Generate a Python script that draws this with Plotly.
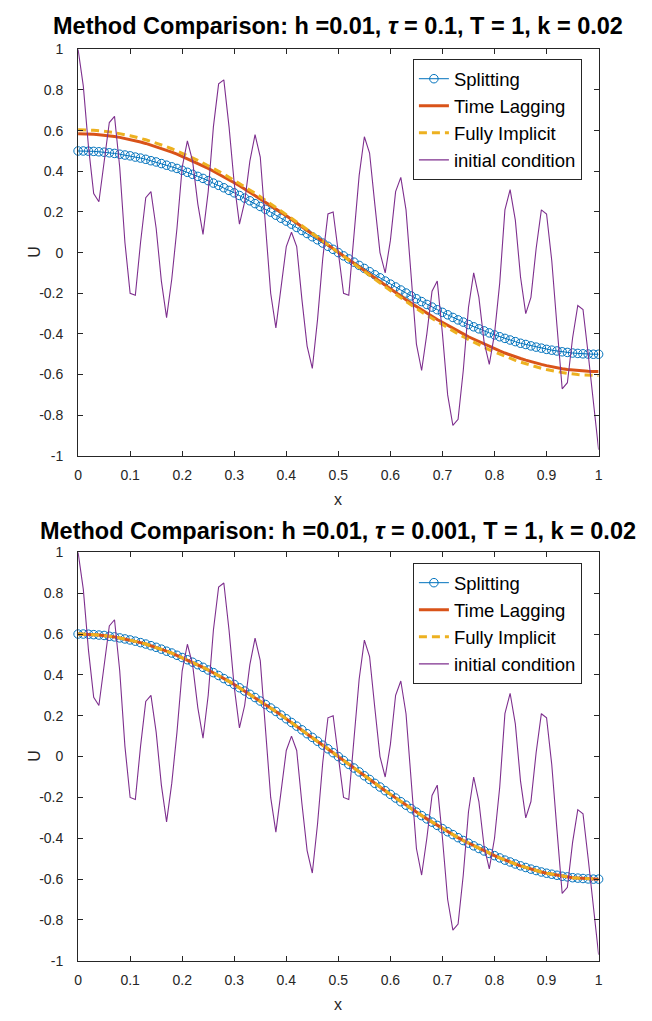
import plotly.graph_objects as go

# ---------------- data ----------------
x_grid = [0.00, 0.01, 0.02, 0.03, 0.04, 0.05, 0.06, 0.07, 0.08, 0.09,
          0.10, 0.11, 0.12, 0.13, 0.14, 0.15, 0.16, 0.17, 0.18, 0.19,
          0.20, 0.21, 0.22, 0.23, 0.24, 0.25, 0.26, 0.27, 0.28, 0.29,
          0.30, 0.31, 0.32, 0.33, 0.34, 0.35, 0.36, 0.37, 0.38, 0.39,
          0.40, 0.41, 0.42, 0.43, 0.44, 0.45, 0.46, 0.47, 0.48, 0.49,
          0.50, 0.51, 0.52, 0.53, 0.54, 0.55, 0.56, 0.57, 0.58, 0.59,
          0.60, 0.61, 0.62, 0.63, 0.64, 0.65, 0.66, 0.67, 0.68, 0.69,
          0.70, 0.71, 0.72, 0.73, 0.74, 0.75, 0.76, 0.77, 0.78, 0.79,
          0.80, 0.81, 0.82, 0.83, 0.84, 0.85, 0.86, 0.87, 0.88, 0.89,
          0.90, 0.91, 0.92, 0.93, 0.94, 0.95, 0.96, 0.97, 0.98, 0.99,
          1.00]

initial_condition = [
    1.00, 0.82, 0.52, 0.29, 0.25, 0.45, 0.64, 0.67, 0.42, 0.05,
    -0.20, -0.21, 0.05, 0.27, 0.30, 0.12, -0.14, -0.32, -0.13, 0.12,
    0.42, 0.55, 0.45, 0.24, 0.09, 0.30, 0.62, 0.83, 0.85, 0.62,
    0.34, 0.14, 0.25, 0.45, 0.58, 0.47, 0.15, -0.20, -0.37, -0.17,
    0.03, 0.10, 0.03, -0.23, -0.46, -0.57, -0.33, -0.03, 0.19, 0.20,
    -0.01, -0.20, -0.21, 0.07, 0.38, 0.57, 0.49, 0.24, 0.00, -0.10,
    0.06, 0.30, 0.37, 0.21, -0.12, -0.45, -0.58, -0.40, -0.19, -0.14,
    -0.40, -0.70, -0.85, -0.82, -0.58, -0.27, -0.10, -0.22, -0.44, -0.55,
    -0.40, -0.15, 0.21, 0.31, 0.16, -0.12, -0.30, -0.22, 0.02, 0.21,
    0.19, -0.04, -0.36, -0.67, -0.64, -0.42, -0.26, -0.28, -0.50, -0.74,
    -0.97]

# top panel (tau = 0.1)
top_splitting = [
    0.500, 0.500, 0.499, 0.498, 0.496, 0.494, 0.491, 0.488, 0.484, 0.480,
    0.476, 0.470, 0.465, 0.459, 0.452, 0.446, 0.438, 0.430, 0.422, 0.414,
    0.405, 0.395, 0.385, 0.375, 0.365, 0.354, 0.342, 0.331, 0.319, 0.306,
    0.294, 0.281, 0.268, 0.255, 0.241, 0.227, 0.213, 0.199, 0.184, 0.169,
    0.155, 0.140, 0.124, 0.109, 0.094, 0.078, 0.063, 0.047, 0.031, 0.016,
    0.000, -0.016, -0.031, -0.047, -0.063, -0.078, -0.094, -0.109, -0.124, -0.140,
    -0.155, -0.169, -0.184, -0.199, -0.213, -0.227, -0.241, -0.255, -0.268, -0.281,
    -0.294, -0.306, -0.319, -0.331, -0.342, -0.354, -0.365, -0.375, -0.385, -0.395,
    -0.405, -0.414, -0.422, -0.430, -0.438, -0.446, -0.452, -0.459, -0.465, -0.470,
    -0.476, -0.480, -0.484, -0.488, -0.491, -0.494, -0.496, -0.498, -0.499, -0.500,
    -0.500]

top_time_lagging = [
    0.585, 0.585, 0.584, 0.582, 0.580, 0.578, 0.575, 0.571, 0.567, 0.562,
    0.556, 0.550, 0.544, 0.537, 0.529, 0.521, 0.513, 0.504, 0.494, 0.484,
    0.473, 0.462, 0.451, 0.439, 0.426, 0.414, 0.400, 0.387, 0.373, 0.359,
    0.344, 0.329, 0.313, 0.298, 0.282, 0.266, 0.249, 0.232, 0.215, 0.198,
    0.181, 0.163, 0.145, 0.128, 0.110, 0.091, 0.073, 0.055, 0.037, 0.018,
    0.000, -0.018, -0.037, -0.055, -0.073, -0.091, -0.110, -0.128, -0.145, -0.163,
    -0.181, -0.198, -0.215, -0.232, -0.249, -0.266, -0.282, -0.298, -0.313, -0.329,
    -0.344, -0.359, -0.373, -0.387, -0.400, -0.414, -0.426, -0.439, -0.451, -0.462,
    -0.473, -0.484, -0.494, -0.504, -0.513, -0.521, -0.529, -0.537, -0.544, -0.550,
    -0.556, -0.562, -0.567, -0.571, -0.575, -0.578, -0.580, -0.582, -0.584, -0.585,
    -0.585]

top_fully_implicit = [
    0.605, 0.605, 0.604, 0.602, 0.600, 0.598, 0.594, 0.590, 0.586, 0.581,
    0.575, 0.569, 0.563, 0.555, 0.547, 0.539, 0.530, 0.521, 0.511, 0.500,
    0.489, 0.478, 0.466, 0.454, 0.441, 0.428, 0.414, 0.400, 0.386, 0.371,
    0.356, 0.340, 0.324, 0.308, 0.292, 0.275, 0.258, 0.240, 0.223, 0.205,
    0.187, 0.169, 0.151, 0.132, 0.113, 0.095, 0.076, 0.057, 0.038, 0.019,
    0.000, -0.019, -0.038, -0.057, -0.076, -0.095, -0.113, -0.132, -0.151, -0.169,
    -0.187, -0.205, -0.223, -0.240, -0.258, -0.275, -0.292, -0.308, -0.324, -0.340,
    -0.356, -0.371, -0.386, -0.400, -0.414, -0.428, -0.441, -0.454, -0.466, -0.478,
    -0.489, -0.500, -0.511, -0.521, -0.530, -0.539, -0.547, -0.555, -0.563, -0.569,
    -0.575, -0.581, -0.586, -0.590, -0.594, -0.598, -0.600, -0.602, -0.604, -0.605,
    -0.605]

# bottom panel (tau = 0.001): the three methods coincide at this scale
bottom_splitting = [
    0.600, 0.600, 0.599, 0.597, 0.595, 0.593, 0.589, 0.586, 0.581, 0.576,
    0.571, 0.565, 0.558, 0.551, 0.543, 0.535, 0.526, 0.516, 0.507, 0.496,
    0.485, 0.474, 0.462, 0.450, 0.437, 0.424, 0.411, 0.397, 0.382, 0.368,
    0.353, 0.337, 0.321, 0.305, 0.289, 0.272, 0.255, 0.238, 0.221, 0.203,
    0.185, 0.167, 0.149, 0.131, 0.112, 0.094, 0.075, 0.056, 0.038, 0.019,
    0.000, -0.019, -0.038, -0.056, -0.075, -0.094, -0.112, -0.131, -0.149, -0.167,
    -0.185, -0.203, -0.221, -0.238, -0.255, -0.272, -0.289, -0.305, -0.321, -0.337,
    -0.353, -0.368, -0.382, -0.397, -0.411, -0.424, -0.437, -0.450, -0.462, -0.474,
    -0.485, -0.496, -0.507, -0.516, -0.526, -0.535, -0.543, -0.551, -0.558, -0.565,
    -0.571, -0.576, -0.581, -0.586, -0.589, -0.593, -0.595, -0.597, -0.599, -0.600,
    -0.600]
bottom_time_lagging = list(bottom_splitting)
bottom_fully_implicit = list(bottom_splitting)

x_tick_vals = [0, 0.1, 0.2, 0.3, 0.4, 0.5, 0.6, 0.7, 0.8, 0.9, 1]
x_tick_text = ["0", "0.1", "0.2", "0.3", "0.4", "0.5", "0.6", "0.7", "0.8", "0.9", "1"]
y_tick_vals = [-1, -0.8, -0.6, -0.4, -0.2, 0, 0.2, 0.4, 0.6, 0.8, 1]
y_tick_text = ["-1", "-0.8", "-0.6", "-0.4", "-0.2", "0", "0.2", "0.4", "0.6", "0.8", "1"]

titles = ["Method Comparison: h =0.01, <i>τ</i> = 0.1, T = 1, k = 0.02",
          "Method Comparison: h =0.01, <i>τ</i> = 0.001, T = 1, k = 0.02"]

# ---------------- figure ----------------
W, H = 652, 1021
FONT = "Liberation Sans, Arial, Helvetica, sans-serif"
AX = "#262626"
BLUE, ORANGE, YELLOW, PURPLE = "#0072BD", "#D95319", "#EDB120", "#7E2F8E"

def px_x(p):
    return p / W

def px_y(p):
    return 1 - p / H

fig = go.Figure()

panels = [
    ("x", "y", "legend", top_splitting, top_time_lagging, top_fully_implicit),
    ("x2", "y2", "legend2", bottom_splitting, bottom_time_lagging, bottom_fully_implicit),
]
for xa, ya, lg, s, tl, fi in panels:
    fig.add_trace(go.Scatter(x=x_grid, y=s, name="Splitting", mode="lines+markers",
                             line=dict(color=BLUE, width=1),
                             marker=dict(symbol="circle-open", size=8.5, color=BLUE,
                                         line=dict(width=1, color=BLUE)),
                             cliponaxis=False, xaxis=xa, yaxis=ya, legend=lg))
    fig.add_trace(go.Scatter(x=x_grid, y=tl, name="Time Lagging", mode="lines",
                             line=dict(color=ORANGE, width=3),
                             xaxis=xa, yaxis=ya, legend=lg))
    fig.add_trace(go.Scatter(x=x_grid, y=fi, name="Fully Implicit", mode="lines",
                             line=dict(color=YELLOW, width=3, dash="8px,5px"),
                             xaxis=xa, yaxis=ya, legend=lg))
    fig.add_trace(go.Scatter(x=x_grid, y=initial_condition, name="initial condition",
                             mode="lines", line=dict(color=PURPLE, width=1.1),
                             xaxis=xa, yaxis=ya, legend=lg))

xdom = [px_x(75), px_x(602)]
ydom_top = [px_y(455), px_y(42)]
ydom_bot = [px_y(968), px_y(553)]

axis_common = dict(showline=True, linecolor=AX, linewidth=1, mirror="ticks",
                   ticks="inside", ticklen=5, tickwidth=1, tickcolor=AX,
                   showgrid=False, zeroline=False,
                   tickfont=dict(family=FONT, size=14, color=AX))

xaxis_common = dict(axis_common, range=[0, 1], tickvals=x_tick_vals, ticktext=x_tick_text,
                    ticklabelstandoff=6)
yaxis_common = dict(axis_common, range=[-1, 1], tickvals=y_tick_vals, ticktext=y_tick_text,
                    ticklabelstandoff=11)

legend_common = dict(xanchor="left", yanchor="top", bgcolor="white",
                     bordercolor=AX, borderwidth=1,
                     font=dict(family=FONT, size=18.5, color="#000000"),
                     tracegroupgap=0, itemwidth=30)

annotations = []
for title, ty in zip(titles, [18, 531]):
    annotations.append(dict(text="<b>" + title + "</b>", x=px_x(338.5), y=px_y(ty),
                            xref="paper", yref="paper", xanchor="center", yanchor="middle",
                            showarrow=False, font=dict(family=FONT, size=23.5, color="#000000")))
for ly in [499, 1012]:
    annotations.append(dict(text="x", x=px_x(338.5), y=px_y(ly), xref="paper", yref="paper",
                            xanchor="center", yanchor="middle", showarrow=False,
                            font=dict(family=FONT, size=16, color=AX)))
for uy in [248, 760]:
    annotations.append(dict(text="U", x=px_x(30), y=px_y(uy), xref="paper", yref="paper",
                            xanchor="center", yanchor="middle", showarrow=False, textangle=-90,
                            font=dict(family=FONT, size=16, color=AX)))

fig.update_layout(
    width=W, height=H, margin=dict(l=0, r=0, t=0, b=0),
    paper_bgcolor="white", plot_bgcolor="white",
    xaxis=dict(xaxis_common, domain=xdom, anchor="y"),
    yaxis=dict(yaxis_common, domain=ydom_top, anchor="x"),
    xaxis2=dict(xaxis_common, domain=xdom, anchor="y2"),
    yaxis2=dict(yaxis_common, domain=ydom_bot, anchor="x2"),
    legend=dict(legend_common, x=px_x(414), y=px_y(52)),
    legend2=dict(legend_common, x=px_x(414), y=px_y(564)),
    annotations=annotations,
    showlegend=True,
)

fig.write_html("out.html")
